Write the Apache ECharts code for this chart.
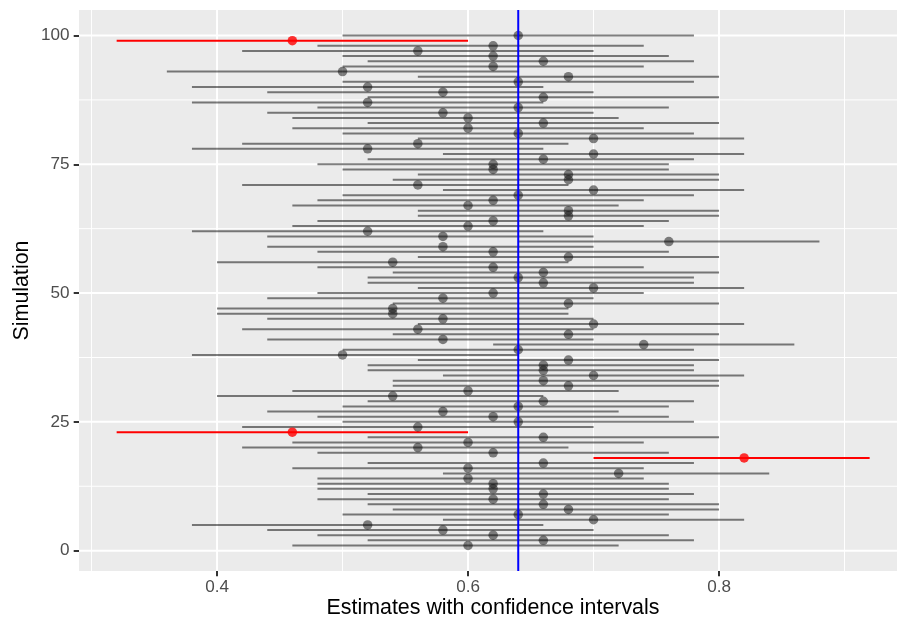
<!DOCTYPE html>
<html><head><meta charset="utf-8">
<script src="https://cdn.jsdelivr.net/npm/echarts@6/dist/echarts.min.js"></script>
<style>html,body{margin:0;padding:0;background:#fff}#chart{width:897px;height:621px}</style>
</head><body><div id="chart"></div>
<script>
// ---- data ----
const simulation = [1,2,3,4,5,6,7,8,9,10,11,12,13,14,15,16,17,18,19,20,21,22,23,24,25,26,27,28,29,30,31,32,33,34,35,36,37,38,39,40,41,42,43,44,45,46,47,48,49,50,51,52,53,54,55,56,57,58,59,60,61,62,63,64,65,66,67,68,69,70,71,72,73,74,75,76,77,78,79,80,81,82,83,84,85,86,87,88,89,90,91,92,93,94,95,96,97,98,99,100];
const estimate = [0.60,0.66,0.62,0.58,0.52,0.70,0.64,0.68,0.66,0.62,
                  0.66,0.62,0.62,0.60,0.72,0.60,0.66,0.82,0.62,0.56,
                  0.60,0.66,0.46,0.56,0.64,0.62,0.58,0.64,0.66,0.54,
                  0.60,0.68,0.66,0.70,0.66,0.66,0.68,0.50,0.64,0.74,
                  0.58,0.68,0.56,0.70,0.58,0.54,0.54,0.68,0.58,0.62,
                  0.70,0.66,0.64,0.66,0.62,0.54,0.68,0.62,0.58,0.76,
                  0.58,0.52,0.60,0.62,0.68,0.68,0.60,0.62,0.64,0.70,
                  0.56,0.68,0.68,0.62,0.62,0.66,0.70,0.52,0.56,0.70,
                  0.64,0.60,0.66,0.60,0.58,0.64,0.52,0.66,0.58,0.52,
                  0.64,0.68,0.50,0.62,0.66,0.62,0.56,0.62,0.46,0.64];
const lower =    [0.46,0.52,0.48,0.44,0.38,0.58,0.50,0.54,0.52,0.48,
                  0.52,0.48,0.48,0.48,0.58,0.46,0.52,0.70,0.48,0.42,
                  0.46,0.52,0.32,0.42,0.50,0.48,0.44,0.50,0.52,0.40,
                  0.46,0.54,0.54,0.58,0.52,0.52,0.56,0.38,0.50,0.62,
                  0.44,0.54,0.42,0.56,0.44,0.40,0.40,0.54,0.44,0.48,
                  0.56,0.52,0.52,0.54,0.48,0.40,0.56,0.48,0.44,0.64,
                  0.44,0.38,0.46,0.48,0.56,0.56,0.46,0.48,0.50,0.58,
                  0.42,0.54,0.56,0.50,0.48,0.52,0.58,0.38,0.42,0.56,
                  0.50,0.46,0.52,0.46,0.44,0.48,0.38,0.52,0.44,0.38,
                  0.50,0.56,0.36,0.50,0.52,0.50,0.42,0.48,0.32,0.50];
const upper =    [0.72,0.78,0.76,0.70,0.66,0.82,0.76,0.80,0.80,0.76,
                  0.78,0.76,0.76,0.74,0.84,0.74,0.78,0.92,0.76,0.68,
                  0.74,0.80,0.60,0.70,0.78,0.76,0.72,0.76,0.78,0.66,
                  0.72,0.80,0.80,0.82,0.78,0.78,0.80,0.64,0.78,0.86,
                  0.70,0.80,0.70,0.82,0.70,0.68,0.68,0.80,0.70,0.74,
                  0.82,0.78,0.78,0.80,0.74,0.68,0.80,0.76,0.70,0.88,
                  0.70,0.66,0.74,0.76,0.80,0.80,0.72,0.74,0.78,0.82,
                  0.68,0.80,0.80,0.76,0.76,0.78,0.82,0.66,0.68,0.82,
                  0.78,0.74,0.80,0.72,0.70,0.76,0.66,0.80,0.70,0.66,
                  0.78,0.80,0.64,0.74,0.78,0.76,0.70,0.74,0.60,0.78];
const trueValue = 0.64;
const xTickValues = [0.4, 0.6, 0.8];
const xMinorValues = [0.3, 0.5, 0.7, 0.9];
const yTickValues = [0, 25, 50, 75, 100];
const yMinorValues = [12.5, 37.5, 62.5, 87.5];

// ---- layout / styles ----
const X_MIN = 0.29, X_MAX = 0.9418, Y_MIN = -3.95, Y_MAX = 104.95;
const FONT = 'Liberation Sans, Arial, sans-serif';

const chart = echarts.init(document.getElementById('chart'), null, {renderer: 'canvas'});

function missed(i) { return lower[i] > trueValue || upper[i] < trueValue; }

const segData = simulation.map((s, i) => [lower[i], upper[i], s, missed(i) ? 1 : 0]);
const greyPts = [], redPts = [];
simulation.forEach((s, i) => { (missed(i) ? redPts : greyPts).push([estimate[i], s]); });

function vGrid(width) {
  return (params, api) => {
    const v = api.value(0);
    const a = api.coord([v, Y_MIN]), b = api.coord([v, Y_MAX]);
    return {type: 'line', shape: {x1: a[0], y1: a[1], x2: b[0], y2: b[1]}, style: {stroke: '#FFFFFF', lineWidth: width}};
  };
}
function hGrid(width) {
  return (params, api) => {
    const v = api.value(1);
    const a = api.coord([X_MIN, v]), b = api.coord([X_MAX, v]);
    return {type: 'line', shape: {x1: a[0], y1: a[1], x2: b[0], y2: b[1]}, style: {stroke: '#FFFFFF', lineWidth: width}};
  };
}

const option = {
  animation: false,
  backgroundColor: '#FFFFFF',
  grid: {left: 79, top: 10, right: 0, height: 561, show: true, backgroundColor: '#EBEBEB', borderWidth: 0,
         containLabel: false, outerBoundsMode: 'none'},
  xAxis: {
    type: 'value', min: X_MIN, max: X_MAX,
    name: 'Estimates with confidence intervals', nameLocation: 'middle', nameGap: 27, nameMoveOverlap: false,
    nameTextStyle: {fontFamily: FONT, fontSize: 21.4, color: '#000000', padding: [0, 0, 0, 10]},
    axisLine: {show: false, onZero: false},
    axisTick: {show: true, length: 5.3, customValues: xTickValues, lineStyle: {color: '#333333', width: 2}},
    axisLabel: {customValues: xTickValues, margin: 7.5, color: '#4D4D4D', fontFamily: FONT, fontSize: 17.1,
                formatter: v => v.toFixed(1)},
    splitLine: {show: false}
  },
  yAxis: {
    type: 'value', min: Y_MIN, max: Y_MAX,
    name: 'Simulation', nameLocation: 'middle', nameGap: 46, nameRotate: 90, nameMoveOverlap: false,
    nameTextStyle: {fontFamily: FONT, fontSize: 21.4, color: '#000000'},
    axisLine: {show: false, onZero: false},
    axisTick: {show: true, length: 5.3, customValues: yTickValues, lineStyle: {color: '#333333', width: 2}},
    axisLabel: {customValues: yTickValues, margin: 9.6, color: '#4D4D4D', fontFamily: FONT, fontSize: 17.1,
                formatter: v => String(Math.round(v))},
    splitLine: {show: false}
  },
  series: [
    {type: 'custom', name: 'minorX', z: 1, silent: true, data: xMinorValues.map(v => [v, 50]), renderItem: vGrid(1.0)},
    {type: 'custom', name: 'minorY', z: 1, silent: true, data: yMinorValues.map(v => [0.5, v]), renderItem: hGrid(1.0)},
    {type: 'custom', name: 'majorX', z: 1, silent: true, data: xTickValues.map(v => [v, 50]), renderItem: vGrid(2.0)},
    {type: 'custom', name: 'majorY', z: 1, silent: true, data: yTickValues.map(v => [0.5, v]), renderItem: hGrid(2.0)},
    {
      type: 'custom', name: 'intervals', z: 2, silent: true,
      encode: {x: [0, 1], y: 2},
      data: segData,
      renderItem: (params, api) => {
        const lo = api.value(0), hi = api.value(1), y = api.value(2), miss = api.value(3);
        const a = api.coord([lo, y]), b = api.coord([hi, y]);
        return {type: 'line', shape: {x1: a[0], y1: a[1], x2: b[0], y2: b[1]},
                style: {stroke: miss ? '#FF0000' : 'rgba(0,0,0,0.5)', lineWidth: 2}};
      }
    },
    {type: 'scatter', name: 'estimates', z: 3, silent: true, symbol: 'circle', symbolSize: 9.5,
     itemStyle: {color: 'rgba(0,0,0,0.6)'}, data: greyPts},
    {type: 'scatter', name: 'missed', z: 4, silent: true, symbol: 'circle', symbolSize: 9.5,
     itemStyle: {color: '#FF0000'}, data: redPts},
    {type: 'line', name: 'truth', z: 5, silent: true, showSymbol: false, symbol: 'none',
     lineStyle: {color: '#0000FF', width: 2},
     data: [[trueValue, Y_MIN], [trueValue, Y_MAX]]}
  ]
};
chart.setOption(option);
</script>
</body></html>
